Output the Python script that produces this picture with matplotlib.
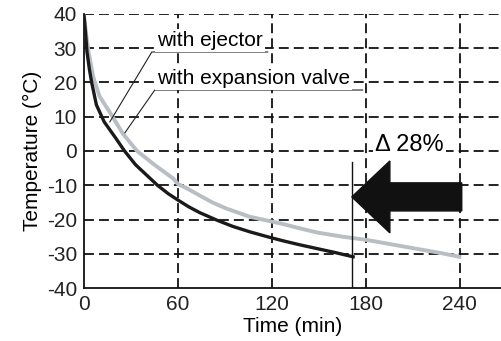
import matplotlib.pyplot as plt

plt.rcParams['font.family'] = ['Liberation Sans', 'DejaVu Sans']
plt.rcParams['axes.unicode_minus'] = False

# time (min) and temperature (C)
ejectorTime = [0, 1, 2, 3.5, 5, 8, 13, 20, 26, 33, 40, 47, 54, 60, 67, 74, 85, 95, 106, 117, 127, 138, 149, 160, 173]
ejectorTemp = [40, 35, 29, 24, 20, 13.5, 8.5, 4, 0, -4, -7, -10, -12.5, -14.3, -16.3, -18, -20.2, -22, -23.6, -25, -26.2, -27.4, -28.5, -29.6, -31]

valveTime = [0, 1.5, 3, 6, 10, 17, 25, 34, 45, 57, 60, 67, 74, 82, 91, 106, 117, 127, 138, 149, 165, 181, 197, 213, 228, 241]
valveTemp = [40, 34, 29, 21.6, 16, 11, 5, 0, -4, -8, -9.6, -11.2, -13, -15, -16.8, -19.2, -20.3, -21.3, -22.6, -23.8, -25, -26, -27.3, -28.6, -29.8, -31]

xTicks = [0, 60, 120, 180, 240]
yTicks = [-40, -30, -20, -10, 0, 10, 20, 30, 40]

fig = plt.figure(figsize=(5.02, 3.41), dpi=100)
ax = fig.add_axes([0.167, 0.1554, 0.833, 0.8036])

ax.set_xlim(0, 267)
ax.set_ylim(-40, 40)
ax.set_xticks(xTicks)
ax.set_yticks(yTicks)
ax.tick_params(length=0, labelsize=15, pad=5, colors='#222222')

for spine in ['top', 'right']:
    ax.spines[spine].set_visible(False)
for spine in ['left', 'bottom']:
    ax.spines[spine].set_linewidth(1.3)
    ax.spines[spine].set_color('#111111')

# dashed grid, 40 line included
for t in xTicks[1:]:
    ax.axvline(t, color='#111111', lw=1.3, ls=(0, (5.5, 2.8)), zorder=1)
for T in yTicks[1:]:
    ax.axhline(T, color='#111111', lw=1.3, ls=(0, (5.5, 2.8)), zorder=1)

ax.plot(valveTime, valveTemp, color='#b8bec4', lw=2.8, zorder=3, solid_capstyle='butt')
ax.plot(ejectorTime, ejectorTemp, color='#1a1a1a', lw=2.4, zorder=4, solid_capstyle='butt')

# leader lines and labels
ax.plot([16.6, 43.4, 117.4], [8.5, 28.9, 28.9], color='#222222', lw=0.8, zorder=5)
ax.plot([26.2, 45.3, 178], [5.3, 17.8, 17.8], color='#222222', lw=0.8, zorder=5)
ax.text(46.6, 29.4, "with ejector", fontsize=15, ha='left', va='bottom', zorder=6,
        bbox=dict(facecolor='white', edgecolor='none', pad=1.5))
ax.text(46.6, 18.3, "with expansion valve", fontsize=15, ha='left', va='bottom', zorder=6,
        bbox=dict(facecolor='white', edgecolor='none', pad=1.5))

# marker line and arrow
ax.plot([171, 171], [-40, -3.2], color='#111111', lw=1.0, zorder=5)
ax.arrow(241.3, -13.4, -70.2, 0, width=8.2, head_width=21, head_length=24.3,
         length_includes_head=True, color='#111111', zorder=6)
ax.text(186, 1.8, "Δ 28%", fontsize=17, ha='left', va='center', zorder=6,
        bbox=dict(facecolor='white', edgecolor='none', pad=1.5))

ax.set_xlabel("Time (min)", fontsize=15, labelpad=2)
ax.set_ylabel("Temperature (°C)", fontsize=15, labelpad=3)

fig.savefig("out.png", dpi=100)
